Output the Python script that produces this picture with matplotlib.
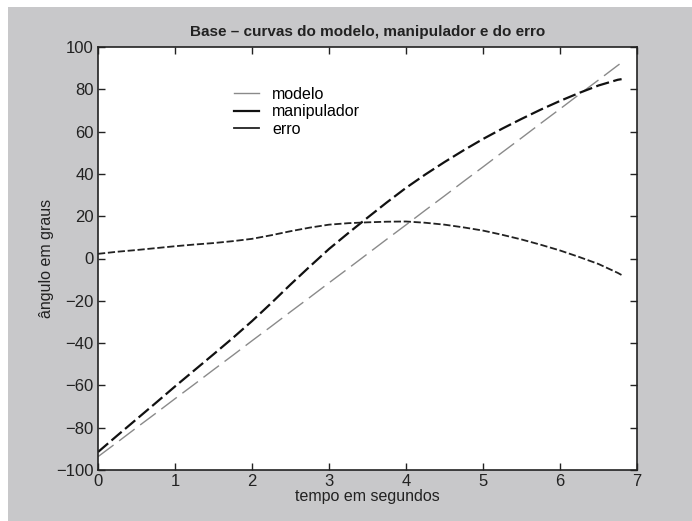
import matplotlib.pyplot as plt
from matplotlib.patches import Rectangle

# tempo (s) and curves
tempo = [0.0, 0.25, 0.5, 0.75, 1.0, 1.25, 1.5, 1.75, 2.0, 2.25, 2.5, 2.75, 3.0, 3.25, 3.5,
         3.75, 4.0, 4.25, 4.5, 4.75, 5.0, 5.25, 5.5, 5.75, 6.0, 6.25, 6.5, 6.75, 6.8]
modelo = [-93.7, -86.9, -80.0, -73.2, -66.3, -59.5, -52.6, -45.8, -38.9, -32.1, -25.2, -18.4,
          -11.5, -4.7, 2.2, 9.1, 15.9, 22.8, 29.6, 36.5, 43.3, 50.2, 57.0, 63.9, 70.7, 77.6,
          84.4, 91.3, 92.6]
manipulador = [-91.5, -83.7, -76.0, -68.3, -60.5, -52.9, -45.3, -37.6, -29.6, -21.1, -12.3,
               -3.8, 4.5, 12.0, 19.3, 26.5, 33.4, 39.7, 45.6, 51.2, 56.5, 61.4, 66.0, 70.4,
               74.5, 78.3, 81.8, 84.5, 84.8]
erro = [2.2, 3.2, 4.0, 4.9, 5.8, 6.6, 7.3, 8.2, 9.3, 11.0, 12.9, 14.6, 16.0, 16.7, 17.1,
        17.4, 17.5, 16.9, 16.0, 14.7, 13.2, 11.2, 9.0, 6.5, 3.8, 0.7, -2.6, -6.8, -7.8]

xticks = [0, 1, 2, 3, 4, 5, 6, 7]
yticks = [-100, -80, -60, -40, -20, 0, 20, 40, 60, 80, 100]

plt.rcParams['font.family'] = ['Liberation Sans Narrow', 'Liberation Sans', 'DejaVu Sans']

fig = plt.figure(figsize=(6.92, 5.21), dpi=100)
fig.patch.set_facecolor('white')
# grey MATLAB style background, white strip on top and left
fig.patches.append(Rectangle((8 / 692, 0), 1, 1 - 7 / 521, transform=fig.transFigure,
                             facecolor='#c8c8ca', edgecolor='none', zorder=-10))

ax = fig.add_axes([98 / 692, 51 / 521, 539 / 692, 423 / 521])
ax.set_facecolor('white')

ax.plot(tempo, modelo, color='#8a8a8a', lw=1.0, dashes=(14, 5), label='modelo')
ax.plot(tempo, manipulador, color='#111111', lw=1.6, dashes=(6, 2), label='manipulador')
ax.plot(tempo, erro, color='#222222', lw=1.3, dashes=(4, 1.5), label='erro')

ax.set_xlim(0, 7)
ax.set_ylim(-100, 100)
ax.set_xticks(xticks)
ax.set_yticks(yticks)
ax.tick_params(direction='in', top=True, right=True, length=5, width=1,
               labelsize=12, pad=3, colors='#222222')
for s in ax.spines.values():
    s.set_linewidth(1.2)
    s.set_color('#222222')

ax.set_title('Base \u2013 curvas do modelo, manipulador e do erro', fontsize=11,
             fontweight='bold', pad=8, color='#222222')
ax.set_xlabel('tempo em segundos', fontsize=11.5, labelpad=0, color='#222222')
ax.set_ylabel('\u00e2ngulo em graus', fontsize=11.5, labelpad=2, color='#222222')

leg = ax.legend(loc='upper left', bbox_to_anchor=(0.225, 0.94), frameon=False,
                handlelength=1.6, handletextpad=0.8, labelspacing=0.15, fontsize=11.5)
for h in leg.get_lines():
    h.set_linestyle('-')

fig.savefig('out.png', dpi=100)
